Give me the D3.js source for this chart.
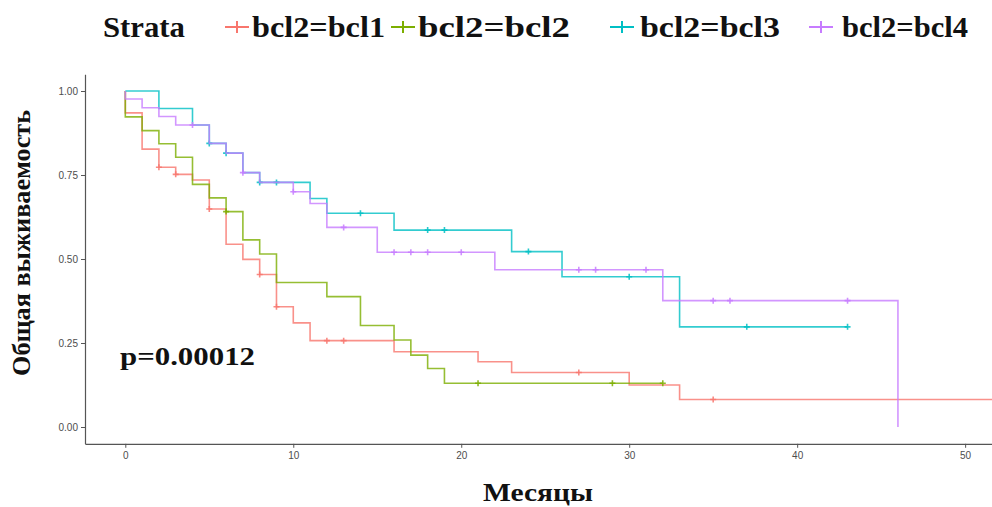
<!DOCTYPE html>
<html>
<head>
<meta charset="utf-8">
<script src="https://cdn.jsdelivr.net/npm/d3@7"></script>
<style>
  body { margin: 0; background: #fff; }
  svg { display: block; }
</style>
</head>
<body>
<div id="chart"></div>
<script>
// strata and colours (ggplot default hues)
const strata = ["bcl2=bcl1", "bcl2=bcl2", "bcl2=bcl3", "bcl2=bcl4"];
const colors = ["#F8766D", "#7CAE00", "#00BFC4", "#C77CFF"];

// step times (months) and survival after each step
const times1 = [0, 1, 2, 3, 4, 5, 6, 7, 8, 9, 10, 11, 16, 21, 23, 30, 33, 56];
const surv1 = [0.935, 0.827, 0.773, 0.752, 0.735, 0.649, 0.544, 0.499, 0.454, 0.358, 0.31, 0.257, 0.224, 0.194, 0.162, 0.125, 0.082, 0.082];
const cens1 = [2, 3, 5, 8, 9, 12, 13, 27, 35];

const times2 = [0, 1, 2, 3, 4, 5, 6, 7, 8, 9, 12, 14, 16, 17, 18, 19, 32];
const surv2 = [0.923, 0.882, 0.843, 0.803, 0.722, 0.682, 0.641, 0.557, 0.515, 0.43, 0.388, 0.302, 0.259, 0.214, 0.174, 0.13, 0.13];
const cens2 = [6, 21, 29, 32];

const times3 = [0, 2, 4, 5, 6, 7, 8, 11, 12, 16, 23, 26, 33, 43];
const surv3 = [1, 0.948, 0.899, 0.844, 0.815, 0.757, 0.728, 0.68, 0.636, 0.586, 0.522, 0.447, 0.298, 0.298];
const cens3 = [5, 6, 8, 9, 14, 18, 19, 24, 30, 37, 43];

const times4 = [0, 1, 2, 3, 5, 6, 7, 8, 10, 11, 12, 15, 22, 32, 46];
const surv4 = [0.976, 0.95, 0.924, 0.899, 0.844, 0.815, 0.757, 0.728, 0.70, 0.665, 0.594, 0.52, 0.468, 0.376, 0];
const cens4 = [4, 7, 10, 13, 16, 17, 18, 20, 27, 28, 31, 35, 36, 43];

const xTicks = [0, 10, 20, 30, 40, 50];
const yTicks = [0, 0.25, 0.5, 0.75, 1];
const pLabel = "p=0.00012";

const width = 992;
const height = 507;
const serif = "'Liberation Serif', 'Times New Roman', serif";
const sans = "'Liberation Sans', Arial, sans-serif";
const axisGrey = "#4d4d4d";

const series = [
  { times: times1, surv: surv1, cens: cens1 },
  { times: times2, surv: surv2, cens: cens2 },
  { times: times3, surv: surv3, cens: cens3 },
  { times: times4, surv: surv4, cens: cens4 },
];

const svg = d3.select("#chart")
  .append("svg")
  .attr("width", width)
  .attr("height", height);

svg.append("rect").attr("width", width).attr("height", height).attr("fill", "#fff");

const x = d3.scaleLinear().domain([-2.4, 51.6]).range([85, 992]);
const y = d3.scaleLinear().domain([-0.05, 1.05]).range([443.8, 74.2]);

// axes
const xAxis = svg.append("g")
  .attr("transform", `translate(0,${y(-0.05)})`)
  .call(d3.axisBottom(x).tickValues(xTicks).tickSize(4).tickSizeOuter(0).tickPadding(4));
const yAxis = svg.append("g")
  .attr("transform", `translate(${x(-2.4)},0)`)
  .call(d3.axisLeft(y).tickValues(yTicks).tickFormat(d3.format(".2f")).tickSize(4).tickSizeOuter(0).tickPadding(3));

[xAxis, yAxis].forEach(a => {
  a.select(".domain").attr("stroke", "#555").attr("stroke-width", 1.2);
  a.selectAll(".tick line").attr("stroke", "#555");
  a.selectAll(".tick text")
    .attr("fill", axisGrey)
    .style("font-family", sans)
    .style("font-size", "10px");
});

// survival curves
const line = d3.line()
  .x(d => x(d[0]))
  .y(d => y(d[1]))
  .curve(d3.curveStepAfter);

function survAt(s, t) {
  let v = 1;
  s.times.forEach((tt, i) => { if (tt <= t) v = s.surv[i]; });
  return v;
}

series.forEach((s, k) => {
  const pts = [[0, 1]].concat(s.times.map((t, i) => [t, s.surv[i]]));
  svg.append("path")
    .attr("d", line(pts))
    .attr("fill", "none")
    .attr("stroke", colors[k])
    .attr("stroke-opacity", 0.8)
    .attr("stroke-width", 1.6);

  svg.append("g")
    .selectAll("path")
    .data(s.cens)
    .join("path")
    .attr("transform", t => `translate(${x(t)},${y(survAt(s, t))})`)
    .attr("d", "M-3,0H3M0,-3V3")
    .attr("stroke", colors[k])
    .attr("stroke-opacity", 0.85)
    .attr("stroke-width", 1.6);
});

// p-value
svg.append("text")
  .attr("x", 120)
  .attr("y", 365)
  .attr("font-family", serif)
  .attr("font-weight", "bold")
  .attr("font-size", "26px")
  .attr("textLength", 135)
  .attr("lengthAdjust", "spacingAndGlyphs")
  .attr("fill", "#111")
  .text(pLabel);

// axis titles
svg.append("text")
  .attr("x", 538)
  .attr("y", 501)
  .attr("text-anchor", "middle")
  .attr("font-family", serif)
  .attr("font-weight", "bold")
  .attr("font-size", "25px")
  .attr("textLength", 110)
  .attr("lengthAdjust", "spacingAndGlyphs")
  .attr("fill", "#111")
  .text("Месяцы");

svg.append("text")
  .attr("transform", "translate(30,243) rotate(-90)")
  .attr("text-anchor", "middle")
  .attr("font-family", serif)
  .attr("font-weight", "bold")
  .attr("font-size", "26px")
  .attr("textLength", 266)
  .attr("lengthAdjust", "spacingAndGlyphs")
  .attr("fill", "#111")
  .text("Общая выживаемость");

// legend
const legend = svg.append("g");
legend.append("text")
  .attr("x", 103)
  .attr("y", 37)
  .attr("font-family", serif)
  .attr("font-weight", "bold")
  .attr("font-size", "29px")
  .attr("textLength", 82)
  .attr("lengthAdjust", "spacingAndGlyphs")
  .attr("fill", "#111")
  .text("Strata");

const legendCross = [237, 403, 622, 821];
const legendText = [252, 418, 640, 842];
const legendWidth = [133, 152, 140, 126];

strata.forEach((name, k) => {
  const g = legend.append("g").attr("transform", `translate(${legendCross[k]},27)`);
  g.append("path")
    .attr("d", "M-12,0H12M0,-6V6")
    .attr("stroke", colors[k])
    .attr("stroke-width", 2);
  legend.append("text")
    .attr("x", legendText[k])
    .attr("y", 37)
    .attr("font-family", serif)
    .attr("font-weight", "bold")
    .attr("font-size", "29px")
    .attr("textLength", legendWidth[k])
    .attr("lengthAdjust", "spacingAndGlyphs")
    .attr("fill", "#111")
    .text(name);
});
</script>
</body>
</html>
